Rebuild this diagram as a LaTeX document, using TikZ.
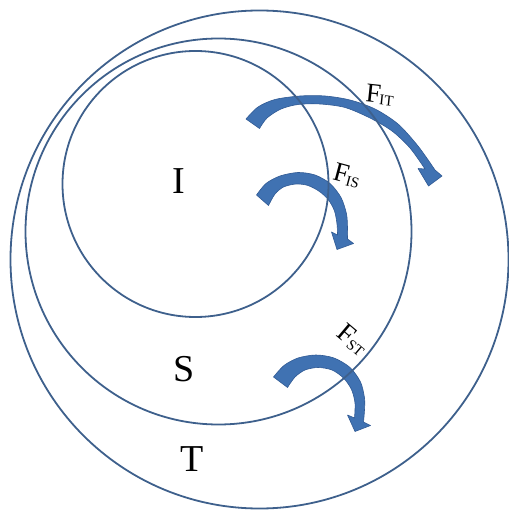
\documentclass[tikz,border=0pt]{standalone}
\usepackage{fontspec}
\setmainfont{Liberation Serif}
\definecolor{ringblue}{RGB}{62,96,140}
\definecolor{arrowfill}{RGB}{64,114,178}
\definecolor{arrowedge}{RGB}{48,90,148}
\tikzset{
  ring/.style={draw=ringblue, line width=1.8pt},
  blockarrow/.style={fill=arrowfill, draw=arrowedge, line width=0.6pt, line join=round},
  biglabel/.style={font=\fontsize{38}{38}\selectfont, inner sep=0pt},
  flabel/.style={font=\fontsize{27}{27}\selectfont, inner sep=0pt}
}
\newcommand{\fsub}[1]{F\kern-1pt\raisebox{-2pt}{\fontsize{15}{15}\selectfont #1}}
\begin{document}
\begin{tikzpicture}[x=1pt,y=-1pt]
\useasboundingbox (0,0) rectangle (508,510);
% arrow I -> T
\path[blockarrow]
  plot[smooth] coordinates {(246,119) (258,107) (275,99.5) (300,96) (325,96) (350,100) (375,109) (398,124) (418,146) (435,170)}
  -- (442,176) -- (428.5,186) -- (418,168.5)
  -- plot[smooth] coordinates {(425,169) (410,148) (392,131) (370,118) (345,107.5) (320,104) (298,104.5) (281,109) (267,118) (259.5,128.5)}
  -- cycle;
% arrow I -> S
\path[blockarrow]
  plot[smooth] coordinates {(256.5,195) (266,183.5) (280,176) (298,172.5) (315,175) (330,183.5) (341,197.5) (346.5,214) (347.5,228) (347.5,239)}
  -- (353.5,243.5) -- (337,249.5) -- (331.5,232)
  -- plot[smooth] coordinates {(337.5,235) (337,224) (334.5,211) (328.5,200) (319.5,191.5) (308,185.5) (296,184) (283.5,187) (275,194) (268.5,205.5)}
  -- cycle;
% arrow S -> T
\path[blockarrow]
  plot[smooth] coordinates {(273.5,377) (284,365.5) (298,358) (316,355) (334,358) (350,367.5) (360.5,382) (364.5,398) (364.5,410) (363.5,422)}
  -- (370.5,425.5) -- (355,431.5) -- (347.5,415)
  -- plot[smooth] coordinates {(354.5,418) (355,403) (351.5,389.5) (343.5,378) (332,370) (318,367.5) (305,370) (295,377) (287.5,387.5)}
  -- cycle;
% circles
\draw[ring] (259.5,259.5) circle[radius=249pt];
\draw[ring] (218.5,231.5) circle[radius=193pt];
\draw[ring] (195.5,184) circle[radius=133pt];
% labels
\node[biglabel] (lI) at (178.5,181) {I};
\node[biglabel] (lS) at (184,369) {S};
\node[biglabel] (lT) at (192,459) {T};
\node[flabel, rotate=-6] (fIT) at (380,95) {\fsub{IT}};
\node[flabel, rotate=-15] (fIS) at (347,176) {\fsub{IS}};
\node[flabel, rotate=-40] (fST) at (353,340) {\fsub{ST}};
\end{tikzpicture}
\end{document}
